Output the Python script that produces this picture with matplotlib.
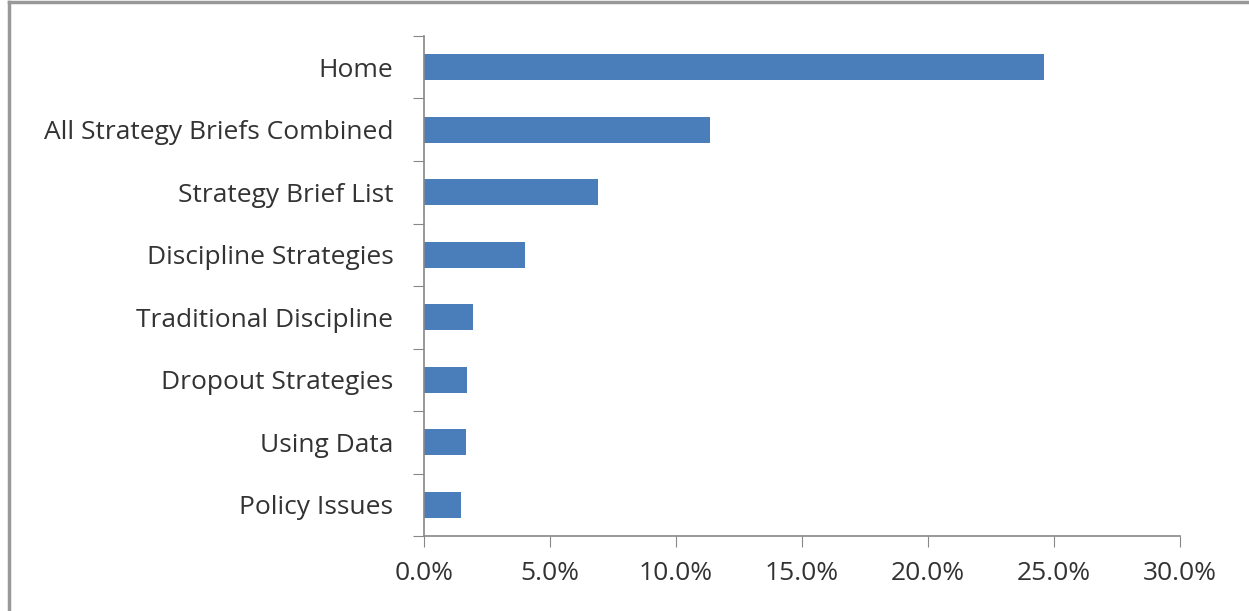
import matplotlib.pyplot as plt
from matplotlib.ticker import FuncFormatter, MultipleLocator
from matplotlib.lines import Line2D

pages = ['Home', 'All Strategy Briefs Combined', 'Strategy Brief List',
         'Discipline Strategies', 'Traditional Discipline', 'Dropout Strategies',
         'Using Data', 'Policy Issues']
share = [24.6, 11.35, 6.9, 4.0, 1.93, 1.69, 1.65, 1.47]

plt.rcParams['font.family'] = ['Open Sans', 'DejaVu Sans']

fig = plt.figure(figsize=(12.49, 6.11), dpi=100)
ax = fig.add_axes([0.3395, 0.1227, 0.6053, 0.8184])

ypos = list(range(len(pages)))[::-1]
ax.barh(ypos, share, height=0.41, color='#4a7ebb')

ax.set_xlim(0, 30)
ax.set_ylim(-0.5, len(pages) - 0.5)
ax.xaxis.set_major_locator(MultipleLocator(5))
ax.xaxis.set_major_formatter(FuncFormatter(lambda v, p: f'{v:.1f}%'))

# category ticks sit between the bars, labels centred on the bars
ax.set_yticks([y - 0.5 for y in range(len(pages) + 1)])
ax.set_yticklabels([])
ax.set_yticks(ypos, minor=True)
ax.set_yticklabels(pages, minor=True)
ax.tick_params(axis='y', which='minor', length=0, pad=22, labelsize=19, labelcolor='#333333')
ax.tick_params(axis='y', which='major', length=8, color='#888888', direction='out')
ax.tick_params(axis='x', length=8, color='#888888', direction='out', pad=10,
               labelsize=19, labelcolor='#333333')

for side in ['top', 'right']:
    ax.spines[side].set_visible(False)
for side in ['left', 'bottom']:
    ax.spines[side].set_color('#888888')
    ax.spines[side].set_linewidth(1.2)

# chart-area frame (top and left edges)
fig.add_artist(Line2D([9 / 1249, 1], [1 - 2 / 611, 1 - 2 / 611], color='#999999', lw=2.5,
                      transform=fig.transFigure))
fig.add_artist(Line2D([9 / 1249, 9 / 1249], [0, 1 - 2 / 611], color='#999999', lw=2.5,
                      transform=fig.transFigure))

fig.savefig('out.png', dpi=100)
